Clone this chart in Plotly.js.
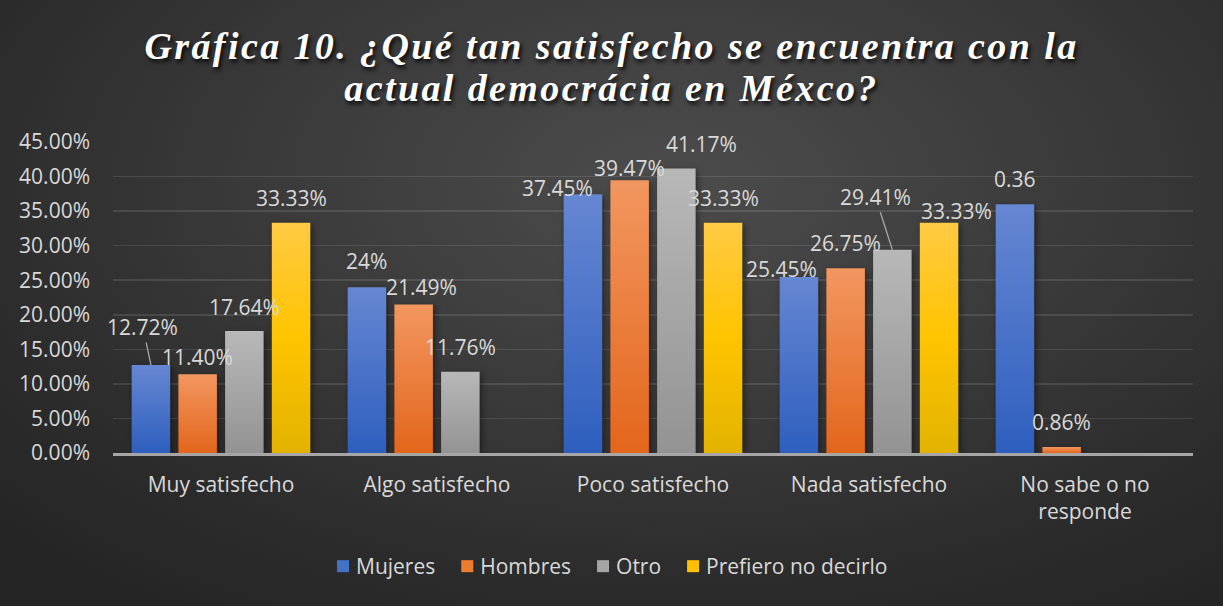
<!DOCTYPE html>
<html>
<head>
<meta charset="utf-8">
<script src="https://cdn.plot.ly/plotly-3.0.1.min.js"></script>
<style>
  html, body { margin: 0; padding: 0; width: 1223px; height: 606px; overflow: hidden; background: #2a2a2a; }
  #chart {
    width: 1223px; height: 606px;
    background: radial-gradient(ellipse 75% 85% at 55% 30%, #4c4c4c 0%, #3a3a3a 45%, #2b2b2b 80%, #252525 100%);
  }
  #chart .gtitle { letter-spacing: 2.4px; }
</style>
</head>
<body>
<div id="chart"></div>
<script>
// ---- data ----
const categories = ['Muy satisfecho', 'Algo satisfecho', 'Poco satisfecho', 'Nada satisfecho', 'No sabe o no<br>responde'];
const seriesNames = ['Mujeres', 'Hombres', 'Otro', 'Prefiero no decirlo'];
const mujeres  = [12.72, 24, 37.45, 25.45, 36];
const hombres  = [11.40, 21.49, 39.47, 26.75, 0.86];
const otro     = [17.64, 11.76, 41.17, 29.41, null];
const prefiero = [33.33, null, 33.33, 33.33, null];
const mujeresLabels  = ['12.72%', '24%', '37.45%', '25.45%', '0.36'];
const hombresLabels  = ['11.40%', '21.49%', '39.47%', '26.75%', '0.86%'];
const otroLabels     = ['17.64%', '11.76%', '41.17%', '29.41%', ''];
const prefieroLabels = ['33.33%', '', '33.33%', '33.33%', ''];
const yTickValues = [0, 5, 10, 15, 20, 25, 30, 35, 40, 45];
const yTickLabels = yTickValues.map(v => v.toFixed(2) + '%');

// ---- styling ----
const W = 1223, H = 606;
const M = { l: 113, r: 30, t: 142, b: 153 };
const BARGAP = 0.135, BARGROUPGAP = 0.175;
const legendColors = ['#4472c4', '#ed7d31', '#a5a5a5', '#ffc000'];
const gradStops = [
  [['0%', '#6687d2'], ['100%', '#2e5fbe']],
  [['0%', '#f29760'], ['100%', '#e3661b']],
  [['0%', '#b8b8b8'], ['100%', '#939393']],
  [['0%', '#ffca45'], ['50%', '#ffc400'], ['100%', '#e2b300']]
];
// label offsets (px) from the bar top: [dx, dy, leaderLine]
const labelOffsets = [
  [[-8, -38, true], [0, -26], [-25, -6], [-17, -8], [0, -25]],
  [[0, -17], [8, -17], [0, -12], [0, -25], [0, -25]],
  [[0, -24], [0, -25], [25, -24], [-17, -53, true], null],
  [[0, -25], null, [0, -25], [17, -12], null]
];
const textColor = '#d9d9d9';
const baseFont = { family: 'Open Sans, sans-serif', size: 21, color: textColor };

const values = [mujeres, hombres, otro, prefiero];
const labels = [mujeresLabels, hombresLabels, otroLabels, prefieroLabels];

const traces = values.map((v, i) => ({
  type: 'bar',
  name: seriesNames[i],
  x: categories,
  y: v,
  marker: { color: legendColors[i], line: { width: 0 } },
  hoverinfo: 'skip'
}));

const plotW = W - M.l - M.r;
const slotPx = plotW / categories.length * (1 - BARGAP) / seriesNames.length;

const annotations = [];
values.forEach((v, i) => {
  v.forEach((val, j) => {
    const off = labelOffsets[i][j];
    if (val === null || !labels[i][j] || !off) return;
    annotations.push({
      x: categories[j], y: val, xref: 'x', yref: 'y',
      xshift: (i - (seriesNames.length - 1) / 2) * slotPx,
      text: labels[i][j],
      showarrow: true, axref: 'pixel', ayref: 'pixel',
      ax: off[0], ay: off[1],
      arrowhead: 0, arrowwidth: 1.3,
      arrowcolor: off[2] ? '#a6a6a6' : 'rgba(0,0,0,0)',
      standoff: 0, startstandoff: 0,
      font: baseFont
    });
  });
});

const layout = {
  width: W, height: H,
  margin: M,
  paper_bgcolor: 'rgba(0,0,0,0)',
  plot_bgcolor: 'rgba(0,0,0,0)',
  barmode: 'group',
  bargap: BARGAP,
  bargroupgap: BARGROUPGAP,
  title: {
    text: 'Gráfica 10. ¿Qué tan satisfecho se encuentra con la<br>actual democrácia en Méxco?',
    font: { family: 'Liberation Serif, serif', size: 38, color: '#ffffff', weight: 'bold', style: 'italic',
            shadow: '2px 3px 4px rgba(0,0,0,0.85)' },
    x: 0.5, xanchor: 'center', xref: 'container',
    y: 0.903, yanchor: 'top', yref: 'container'
  },
  font: baseFont,
  showlegend: true,
  legend: {
    orientation: 'h', x: (W / 2 - M.l) / plotW, xanchor: 'center',
    y: -0.365, yanchor: 'middle',
    font: baseFont, bgcolor: 'rgba(0,0,0,0)', itemclick: false, traceorder: 'normal'
  },
  xaxis: {
    type: 'category', automargin: false,
    range: [-0.5, categories.length - 0.5], autorange: false,
    showgrid: false, zeroline: false,
    showline: true, linecolor: '#a6a6a6', linewidth: 2.5,
    ticks: '', tickfont: baseFont, ticklabelstandoff: 11,
    fixedrange: true
  },
  yaxis: {
    range: [0, 45], autorange: false, automargin: false,
    tickmode: 'array', tickvals: yTickValues, ticktext: yTickLabels,
    showgrid: true, gridcolor: 'rgba(255,255,255,0.11)', gridwidth: 1.6,
    zeroline: false, showline: false,
    ticks: '', tickfont: baseFont, ticklabelstandoff: 22,
    fixedrange: true
  },
  annotations: annotations
};

Plotly.newPlot('chart', traces, layout, { displayModeBar: false, staticPlot: true }).then(gd => {
  const svg = gd.querySelector('svg.main-svg');
  const NS = 'http://www.w3.org/2000/svg';
  let defs = svg.querySelector('defs');
  if (!defs) { defs = document.createElementNS(NS, 'defs'); svg.insertBefore(defs, svg.firstChild); }
  gradStops.forEach((stops, i) => {
    const g = document.createElementNS(NS, 'linearGradient');
    g.setAttribute('id', 'barGrad' + i);
    g.setAttribute('x1', '0'); g.setAttribute('y1', '0');
    g.setAttribute('x2', '0'); g.setAttribute('y2', '1');
    stops.forEach(s => {
      const st = document.createElementNS(NS, 'stop');
      st.setAttribute('offset', s[0]); st.setAttribute('stop-color', s[1]);
      g.appendChild(st);
    });
    defs.appendChild(g);
  });
  gd.querySelectorAll('.barlayer .trace.bars').forEach((tr, i) => {
    tr.querySelectorAll('.point path').forEach(p => {
      p.style.fill = 'url(#barGrad' + i + ')';
      p.style.filter = 'drop-shadow(2px 2px 3px rgba(0,0,0,0.45))';
    });
  });
  // tighter title line spacing
  gd.querySelectorAll('.gtitle tspan.line').forEach((t, k) => { if (k > 0) t.setAttribute('dy', '1.1em'); });
  // legend text closer to its swatch
  gd.querySelectorAll('.legend .legendtext').forEach(t => { t.setAttribute('x', '33'); });
});
</script>
</body>
</html>
